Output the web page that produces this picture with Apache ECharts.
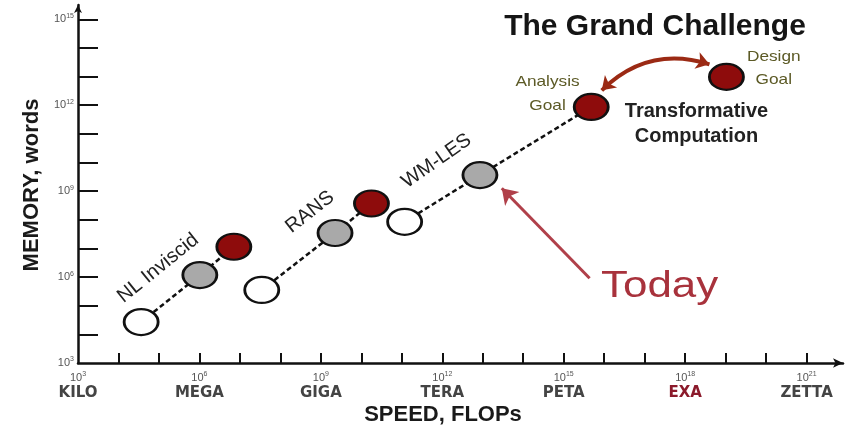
<!DOCTYPE html>
<html><head><meta charset="utf-8">
<script src="https://cdn.jsdelivr.net/npm/echarts@6/dist/echarts.min.js"></script>
<style>html,body{margin:0;padding:0;background:#fff}#c{width:853px;height:430px}</style>
</head><body><div id="c"></div>
<script>
// Values are powers of ten (log10): speed in FLOPs, memory in words
const speedExp = [4.56, 6.01, 6.85, 7.54, 9.35, 10.25, 11.07, 12.93, 15.68, 19.02];
const memExp   = [4.43, 6.07, 7.06, 5.55, 7.54, 8.57, 7.93, 9.56, 11.94, 12.99];
const kinds    = ['white','gray','red','white','gray','red','white','gray','red','red'];
const chains   = [[0,1,2],[3,4,5],[6,7,8]];
const xLabelExp = [3,6,9,12,15,18,21];
const xPrefixes = ['KILO','MEGA','GIGA','TERA','PETA','EXA','ZETTA'];
const yLabelExp = [3,6,9,12,15];
const todayArrow = [[15.64, 5.96],[13.47, 9.10]];
const goalArrow  = [[15.94, 12.52],[18.60, 13.43]];
const notes = [
  {text:'NL Inviscid', at:[4.98, 6.31], rot:39},
  {text:'RANS', at:[8.73, 8.27], rot:38},
  {text:'WM-LES', at:[11.86, 10.05], rot:35}
];

const fillOf = {white:'#ffffff', gray:'#a9a9a9', red:'#8e0c0c'};
const xTicks = []; for (let i = 4; i <= 21; i++) xTicks.push(i);
const yTicks = []; for (let i = 4; i <= 15; i++) yTicks.push(i);

const chart = echarts.init(document.getElementById('c'));
const FONT = 'Arial, "Liberation Sans", sans-serif';

const option = {
  animation:false,
  grid:{left:78, right:10, top:5, bottom:67, containLabel:false, outerBoundsMode:'none'},
  xAxis:{
    type:'value', min:3, max:21.9, interval:1,
    splitLine:{show:false},
    axisLine:{lineStyle:{color:'#111', width:2.5}, symbol:['none','arrow'], symbolSize:[7,10]},
    axisTick:{inside:true, length:10, lineStyle:{color:'#111', width:2}, customValues:xTicks},
    axisLabel:{
      customValues:xLabelExp, margin:8, fontFamily:FONT,
      formatter:function(v){
        const i = xLabelExp.indexOf(v);
        const p = xPrefixes[i];
        return '{n|10}{s|' + v + '}\n{' + (p === 'EXA' ? 'r' : 'p') + '|' + p + '}';
      },
      rich:{
        n:{fontSize:11, color:'#555', fontFamily:FONT, lineHeight:14},
        s:{fontSize:7, color:'#555', fontFamily:FONT, lineHeight:14, padding:[0,0,7,0]},
        p:{fontSize:15, color:'#444', fontFamily:'"DejaVu Sans", sans-serif', fontWeight:'bold', lineHeight:16},
        r:{fontSize:15, color:'#8b1a2b', fontFamily:'"DejaVu Sans", sans-serif', fontWeight:'bold', lineHeight:16}
      }
    }
  },
  yAxis:{
    type:'value', min:3, max:15.5, interval:1,
    splitLine:{show:false},
    axisLine:{lineStyle:{color:'#111', width:2.5}, symbol:['none','arrow'], symbolSize:[6,8]},
    axisTick:{inside:true, length:20, lineStyle:{color:'#111', width:2}, customValues:yTicks},
    axisLabel:{
      customValues:yLabelExp, margin:4, fontFamily:FONT,
      formatter:function(v){ return '{n|10}{s|' + v + '}'; },
      rich:{
        n:{fontSize:11, color:'#555', fontFamily:FONT, lineHeight:14},
        s:{fontSize:7, color:'#555', fontFamily:FONT, lineHeight:14, padding:[0,0,7,0]}
      }
    }
  },
  series:[]
};

chains.forEach(function(ch){
  option.series.push({
    type:'line', z:1, symbol:'none', silent:true,
    data: ch.map(function(i){ return [speedExp[i], memExp[i]]; }),
    lineStyle:{color:'#111', width:2.5, type:[5,3]}
  });
});
option.series.push({
  type:'scatter', z:3, symbol:'circle', symbolSize:[34,26],
  data: speedExp.map(function(x,i){
    return {value:[x, memExp[i]], itemStyle:{color:fillOf[kinds[i]], borderColor:'#111', borderWidth:2.5, opacity:1}};
  })
});
option.series.push({
  type:'lines', coordinateSystem:'cartesian2d', z:4,
  symbol:['none','arrow'], symbolSize:15,
  lineStyle:{color:'#b0404a', width:3, opacity:1, curveness:0},
  data:[{coords:todayArrow}]
});
option.series.push({
  type:'lines', coordinateSystem:'cartesian2d', z:4,
  symbol:['arrow','arrow'], symbolSize:13,
  lineStyle:{color:'#9b2a14', width:4, opacity:1, curveness:-0.3},
  data:[{coords:[goalArrow[1], goalArrow[0]]}]
});

chart.setOption(option);

function px(p){ return chart.convertToPixel({gridIndex:0}, p); }
const g = [];
notes.forEach(function(n){
  const p = px(n.at);
  g.push({type:'text', x:p[0], y:p[1], rotation:n.rot*Math.PI/180, z:10,
    style:{text:n.text, fontSize:20, fontFamily:FONT, fill:'#222', align:'center', verticalAlign:'middle'}});
});
let p = px([17.37, 5.65]);
g.push({type:'text', x:p[0], y:p[1], scaleX:1.22, z:10,
  style:{text:'Today', fontSize:36, fontFamily:FONT, fill:'#a8323c', align:'center', verticalAlign:'middle'}});
p = px([14.6, 12.38]);
g.push({type:'text', x:p[0], y:p[1], scaleX:1.15, z:10,
  style:{text:'Analysis\nGoal', fontSize:15, lineHeight:24, fontFamily:FONT, fill:'#5c5a26', align:'center', verticalAlign:'middle'}});
p = px([20.19, 13.29]);
g.push({type:'text', x:p[0], y:p[1], scaleX:1.15, z:10,
  style:{text:'Design\nGoal', fontSize:15, lineHeight:23, fontFamily:FONT, fill:'#5c5a26', align:'center', verticalAlign:'middle'}});
p = px([18.28, 11.34]);
g.push({type:'text', x:p[0], y:p[1], z:10,
  style:{text:'Transformative\nComputation', fontSize:20, lineHeight:25, fontWeight:'bold', fontFamily:FONT, fill:'#222', align:'center', verticalAlign:'middle'}});
g.push({type:'text', x:655, y:27, z:10,
  style:{text:'The Grand Challenge', fontSize:30, fontWeight:'bold', fontFamily:FONT, fill:'#151515', align:'center', verticalAlign:'middle'}});
g.push({type:'text', x:443, y:415, z:10,
  style:{text:'SPEED, FLOPs', fontSize:22, fontWeight:'bold', fontFamily:FONT, fill:'#1a1a1a', align:'center', verticalAlign:'middle'}});
g.push({type:'text', x:32, y:185, rotation:Math.PI/2, z:10,
  style:{text:'MEMORY, words', fontSize:22, fontWeight:'bold', fontFamily:FONT, fill:'#1a1a1a', align:'center', verticalAlign:'middle'}});
chart.setOption({graphic:g});
</script>
</body></html>
